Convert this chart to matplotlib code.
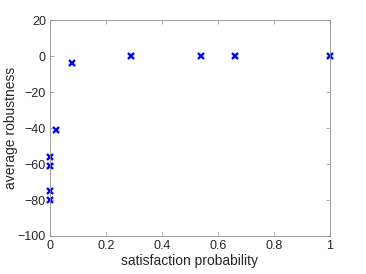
import matplotlib
matplotlib.use("Agg")
import matplotlib.pyplot as plt

plt.rcParams['font.family'] = ['Liberation Sans', 'DejaVu Sans']

sat_prob = [0, 0, 0, 0, 0.02, 0.08, 0.29, 0.54, 0.66, 1.0]
avg_rob = [-80, -75, -61, -56, -41, -4, 0, 0, 0, 0]

fig = plt.figure(figsize=(3.66, 2.74), dpi=100)
ax = fig.add_axes([0.1366, 0.1387, 0.765, 0.788])
ax.plot(sat_prob, avg_rob, 'x', color='#0000ff', markersize=4.5, markeredgewidth=1.7, clip_on=False)
ax.set_xlim(0, 1)
ax.set_ylim(-100, 20)
ax.set_xticks([0, 0.2, 0.4, 0.6, 0.8, 1])
ax.set_xticklabels(['0', '0.2', '0.4', '0.6', '0.8', '1'])
ax.set_yticks(range(-100, 21, 20))
for s in ax.spines.values():
    s.set_color('#8c8c8c')
    s.set_linewidth(0.6)
ax.tick_params(direction='in', length=3, width=0.5, labelsize=9, color='#8c8c8c',
               labelcolor='#262626', top=True, right=True, pad=3)
ax.set_xlabel('satisfaction probability', fontsize=10, color='#262626', labelpad=1)
ax.set_ylabel('average robustness', fontsize=10, color='#262626', labelpad=0)
fig.savefig('out.png', dpi=100)
